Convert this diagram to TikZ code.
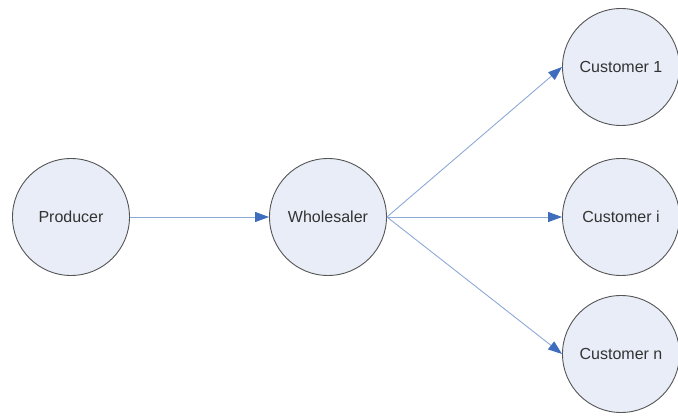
\documentclass[tikz,border=0pt]{standalone}
\usepackage{fontspec}
\setmainfont{Liberation Sans}
\usetikzlibrary{arrows.meta}
\definecolor{nodefill}{HTML}{E8EDF7}
\definecolor{nodeline}{HTML}{555555}
\definecolor{flowline}{HTML}{8DA9D6}
\definecolor{flowtip}{HTML}{3F6DBE}
\definecolor{labeltext}{HTML}{333333}
\tikzset{
  party/.style={circle, draw=nodeline, fill=nodefill, line width=0.9pt,
    minimum size=117pt, inner sep=0pt, text=labeltext,
    font=\fontsize{16}{19}\selectfont},
  flow/.style={draw=flowline, line width=0.9pt,
    -{Triangle[length=14pt,width=10pt,fill=flowtip,color=flowtip]}}
}
\begin{document}
\begin{tikzpicture}[x=1pt,y=-1pt]
\useasboundingbox (0,0) rectangle (678,417);
\node[party] (prod) at (71,217) {Producer};
\node[party] (whole) at (328,217) {Wholesaler};
\node[party] (c1) at (621,67) {Customer 1};
\node[party] (ci) at (621,217) {Customer i};
\node[party] (cn) at (621,354) {Customer n};
\draw[flow] (prod.east) -- (whole.west);
\draw[flow] (whole.east) -- (c1.west);
\draw[flow] (whole.east) -- (ci.west);
\draw[flow] (whole.east) -- (cn.west);
\end{tikzpicture}
\end{document}
